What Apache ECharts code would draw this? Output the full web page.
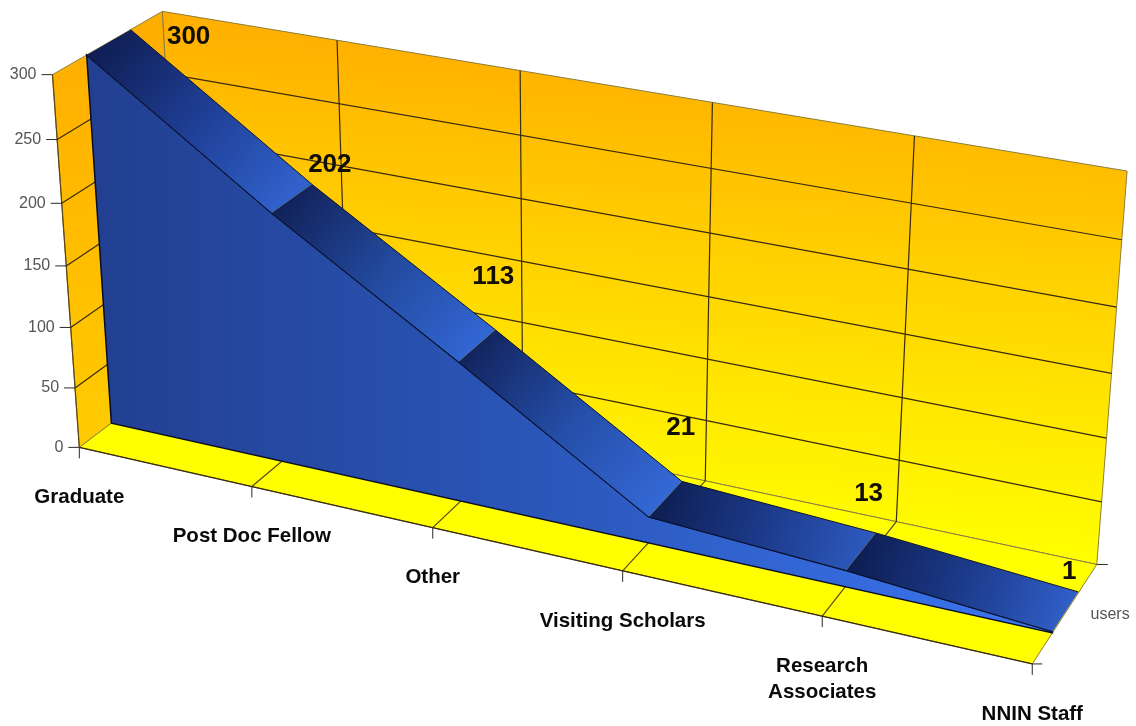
<!DOCTYPE html>
<html>
<head>
<meta charset="utf-8">
<title>Users by category</title>
<style>html,body{margin:0;padding:0;background:#fff}#chart{width:1136px;height:726px}</style>
<script src="https://cdn.jsdelivr.net/npm/echarts@6/dist/echarts.min.js"></script>
</head>
<body>
<div id="chart"></div>
<script>
// Chart data
const categories = ['Graduate', 'Post Doc Fellow', 'Other', 'Visiting Scholars', 'Research\nAssociates', 'NNIN Staff'];
const users = [300, 202, 113, 21, 13, 1];
const valueTicks = [0, 50, 100, 150, 200, 250, 300];
const seriesName = 'users';

// Depth of the box (0 = front, 1 = back wall) occupied by the area ribbon
const RIBBON_FRONT = 0.3;
const RIBBON_BACK = 0.7;

// Camera calibration: [category index, value, depth] -> page position of that box point
const cameraAnchors = [
  [0,300,0, 52,75], [0,250,0, 57,139], [0,200,0, 62,203], [0,50,0, 75,387], [0,0,0, 79,447],
  [1,0,0, 252,486], [2,0,0, 435,530], [3,0,0, 622,571], [4,0,0, 822,617], [5,0,0, 1032,663],
  [0,300,1, 163,11], [1,300,1, 337,41], [2,300,1, 520,72], [3,300,1, 712,102], [4,300,1, 915,135], [5,300,1, 1127,172],
  [3,0,1, 705,480], [4,0,1, 896,522], [5,0,1, 1097,565], [5,250,1, 1122,238], [5,50,1, 1102,502],
  [0,0,0.3, 111,423], [5,0,0.3, 1052,633], [5,0,0.7, 1078,593], [0,300,0.3, 87,55], [0,300,0.7, 130,30]
];

// Least-squares fit of a 3x4 projective camera over unit box coordinates
function fitCamera(anchors) {
  const n = 11, A = [], b = [];
  for (let i = 0; i < n; i++) { A.push(new Array(n).fill(0)); b.push(0); }
  const add = (row, rhs) => {
    for (let i = 0; i < n; i++) {
      b[i] += row[i] * rhs;
      for (let j = 0; j < n; j++) A[i][j] += row[i] * row[j];
    }
  };
  anchors.forEach(([c, v, d, px, py]) => {
    const X = c / 5, Y = v / 300, Z = d, sx = px / 1000, sy = py / 1000;
    add([X, Y, Z, 1, 0, 0, 0, 0, -sx * X, -sx * Y, -sx * Z], sx);
    add([0, 0, 0, 0, X, Y, Z, 1, -sy * X, -sy * Y, -sy * Z], sy);
  });
  for (let i = 0; i < n; i++) {
    let p = i;
    for (let r = i + 1; r < n; r++) if (Math.abs(A[r][i]) > Math.abs(A[p][i])) p = r;
    [A[i], A[p]] = [A[p], A[i]];
    [b[i], b[p]] = [b[p], b[i]];
    for (let r = i + 1; r < n; r++) {
      const f = A[r][i] / A[i][i];
      for (let c = i; c < n; c++) A[r][c] -= f * A[i][c];
      b[r] -= f * b[i];
    }
  }
  const x = new Array(n).fill(0);
  for (let i = n - 1; i >= 0; i--) {
    let s = b[i];
    for (let c = i + 1; c < n; c++) s -= A[i][c] * x[c];
    x[i] = s / A[i][i];
  }
  return x;
}
const cam = fitCamera(cameraAnchors);

// Maps a category/value pair through the chart's own axes, then through the camera
function projector(params, api) {
  const r = params.coordSys;
  return (cat, val, depth) => {
    const c = api.coord([cat, val]);
    const X = (c[0] - r.x) / r.width, Y = (r.y + r.height - c[1]) / r.height, Z = depth;
    const w = cam[8] * X + cam[9] * Y + cam[10] * Z + 1;
    return [
      1000 * (cam[0] * X + cam[1] * Y + cam[2] * Z + cam[3]) / w,
      1000 * (cam[4] * X + cam[5] * Y + cam[6] * Z + cam[7]) / w
    ];
  };
}

const grad = (a, b, stops) => ({
  type: 'linear', x: a[0], y: a[1], x2: b[0], y2: b[1], global: true,
  colorStops: stops.map((c, i) => ({ offset: stops.length > 1 ? i / (stops.length - 1) : 0, color: c }))
});
const poly = (points, fill, stroke, lineWidth) => ({
  type: 'polygon', shape: { points }, style: { fill, stroke: stroke || 'none', lineWidth: lineWidth || 0 }
});
const seg = (a, b, stroke, lineWidth) => ({
  type: 'line', shape: { x1: a[0], y1: a[1], x2: b[0], y2: b[1] },
  style: { stroke, lineWidth: lineWidth || 1, fill: 'none' }
});
const txt = (text, x, y, font, fill, align, verticalAlign, lineHeight) => ({
  type: 'text',
  style: { text, x, y, font, fill, align, verticalAlign, lineHeight }
});

const LAST = categories.length - 1;
const TOP = valueTicks[valueTicks.length - 1];
const EDGE = '#8d7f3c', GRID = '#3a2c0c', TICK = '#2b2a26', AXIS_TEXT = '#555555';
const SANS = '"Liberation Sans", Arial, sans-serif';

// Left wall, back wall, floor, grid lines and the axis ticks with their labels
function renderBox(params, api) {
  const P = projector(params, api), kids = [];
  kids.push(poly([P(0, 0, 0), P(0, TOP, 0), P(0, TOP, 1), P(0, 0, 1)],
    grad([60, 40], [85, 450], ['#ffae00', '#ffcc00']), EDGE, 1));
  kids.push(poly([P(0, 0, 1), P(0, TOP, 1), P(LAST, TOP, 1), P(LAST, 0, 1)],
    grad([163, 11], [131, 500], ['#ffae00', '#ffff00']), EDGE, 1));
  kids.push(poly([P(0, 0, 0), P(0, 0, 1), P(LAST, 0, 1), P(LAST, 0, 0)], '#ffff00', EDGE, 1));
  kids.push(seg(P(0, 0, 0), P(0, TOP, 0), '#5a4718', 1.2));

  valueTicks.forEach(v => {
    if (v > 0 && v < TOP) {
      kids.push(seg(P(0, v, 0), P(0, v, 1), GRID, 1.2));
      kids.push(seg(P(0, v, 1), P(LAST, v, 1), GRID, 1.2));
    }
    const t = P(0, v, 0);
    kids.push(seg([t[0] - 11, t[1]], t, TICK));
    kids.push(txt(String(v), t[0] - 16, t[1], '16px ' + SANS, AXIS_TEXT, 'right', 'middle'));
  });
  categories.forEach((name, i) => {
    if (i > 0 && i < LAST) {
      kids.push(seg(P(i, 0, 0), P(i, 0, 1), '#5a4a14', 1.2));
      kids.push(seg(P(i, 0, 1), P(i, TOP, 1), GRID, 1.2));
    }
    const t = P(i, 0, 0);
    kids.push(seg(t, [t[0], t[1] + 11], TICK));
    kids.push(txt(name, t[0], t[1] + 37, 'bold 20.5px ' + SANS, '#0a0a0a', 'center', 'top', 26));
  });
  kids.push(seg(P(0, 0, 0), P(LAST, 0, 0), GRID, 1.2));
  const f = P(LAST, 0, 0), b = P(LAST, 0, 1);
  kids.push(seg(f, [f[0] + 10, f[1]], TICK));
  kids.push(seg(b, [b[0] + 11, b[1]], TICK));
  kids.push(txt(seriesName, (f[0] + b[0]) / 2 + 26, (f[1] + b[1]) / 2, '16px ' + SANS, AXIS_TEXT, 'left', 'middle'));
  return { type: 'group', children: kids };
}

const RIBBON_COLORS = [
  ['#101f56', '#1f3f96', '#3162cc'],
  ['#12235c', '#234a9e', '#3266d4'],
  ['#132560', '#254ea8', '#3468d6'],
  ['#0f2056', '#1c3a8a', '#2c58bc'],
  ['#0e1f55', '#1c3a8a', '#2f5ec6']
];

// Front face of the area plus one shaded ribbon strip per category step
function renderArea(params, api) {
  const P = projector(params, api), i = params.dataIndex, kids = [];
  const value = j => api.value(1, j);
  if (i === 0) {
    const top = categories.map((_, j) => P(j, value(j), RIBBON_FRONT));
    const pts = [P(0, 0, RIBBON_FRONT)].concat(top, [P(LAST, 0, RIBBON_FRONT)]);
    kids.push(poly(pts, grad([87, 0], [1052, 0], ['#223f90', '#2b58bc', '#3c76f2']), '#080d24', 1.5));
  }
  if (i < LAST) {
    const a = P(i, value(i), RIBBON_FRONT), b = P(i, value(i), RIBBON_BACK);
    const c = P(i + 1, value(i + 1), RIBBON_BACK), d = P(i + 1, value(i + 1), RIBBON_FRONT);
    const from = [(a[0] + b[0]) / 2, (a[1] + b[1]) / 2], to = [(c[0] + d[0]) / 2, (c[1] + d[1]) / 2];
    kids.push(poly([a, b, c, d], grad(from, to, RIBBON_COLORS[i])));
    kids.push(seg(b, c, '#0b1230'));
    kids.push(seg(a, d, '#0b1230'));
  }
  return { type: 'group', children: kids };
}

// Value labels beside the back edge of the ribbon, each with its own clearance
const LABEL_NUDGE = [[58, 7], [18, -19], [-2, -53], [-1, -54], [-7, -39], [-9, -20]];
function renderValueLabel(params, api) {
  const P = projector(params, api), i = params.dataIndex;
  const v = api.value(1), t = P(i, v, RIBBON_BACK);
  return txt(String(v), t[0] + LABEL_NUDGE[i][0], t[1] + LABEL_NUDGE[i][1],
    'bold 26px ' + SANS, '#120e05', 'center', 'middle');
}

const rows = users.map((v, i) => [i, v]);
const chart = echarts.init(document.getElementById('chart'), null, { renderer: 'canvas' });
chart.setOption({
  animation: false,
  backgroundColor: '#ffffff',
  grid: { left: 0, right: 0, top: 0, bottom: 0 },
  xAxis: { type: 'category', data: categories, boundaryGap: false, show: false },
  yAxis: { type: 'value', min: 0, max: TOP, interval: 50, show: false },
  series: [
    { type: 'custom', name: 'box', silent: true, z: 1, data: [[0, 0]], renderItem: renderBox, encode: { x: 0, y: 1 } },
    { type: 'custom', name: seriesName, silent: true, z: 2, data: rows, renderItem: renderArea, encode: { x: 0, y: 1 } },
    { type: 'custom', name: 'values', silent: true, z: 3, data: rows, renderItem: renderValueLabel, encode: { x: 0, y: 1 } }
  ]
});
</script>
</body>
</html>
